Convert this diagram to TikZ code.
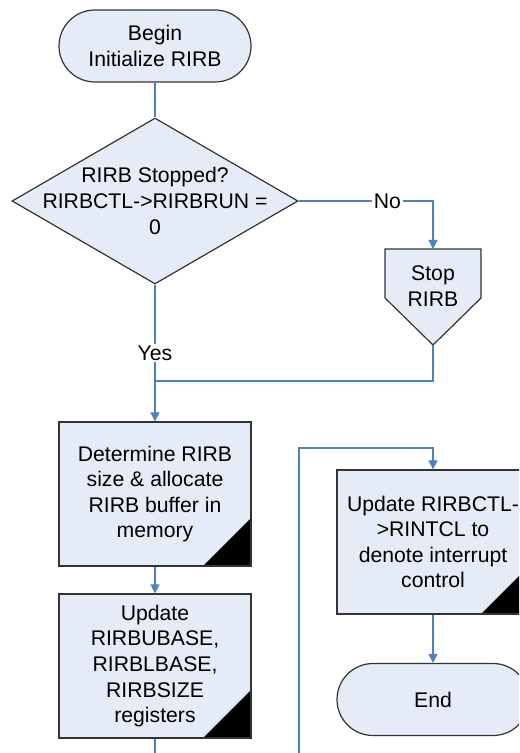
\documentclass[tikz,border=0pt]{standalone}
\usepackage{fontspec}
\setmainfont{Liberation Sans}
\usetikzlibrary{arrows.meta}
\usetikzlibrary{shapes.geometric}
\definecolor{boxfill}{RGB}{230,236,247}
\definecolor{linkblue}{RGB}{79,129,189}
\tikzset{
  term/.style={draw=black!80, fill=boxfill, rectangle, rounded corners=18pt, minimum width=96pt, minimum height=36pt, align=center, line width=0.6pt},
  proc/.style={draw=black!80, fill=boxfill, rectangle, minimum width=96pt, minimum height=72pt, inner sep=0pt, align=center, line width=0.6pt,
    path picture={\fill[black] (path picture bounding box.south east) -- ++(-24pt,0) -- ++(24pt,24pt) -- cycle;}},
  link/.style={draw=linkblue, line width=0.55pt},
  arr/.style={link, -{Triangle[length=4.5pt,width=4.5pt]}},
  lbl/.style={fill=white, inner sep=1pt}
}

\begin{document}
\begin{tikzpicture}[x=0.5pt, y=-0.5pt, font=\fontsize{10.6}{12.8}\selectfont]
\useasboundingbox (0,0) rectangle (519,753);
\clip (0,0) rectangle (519,753);
\node[term] (begin) at (155,46) {Begin\\Initialize RIRB};
\node[diamond, draw=black!80, fill=boxfill, line width=0.6pt, minimum width=143pt, minimum height=83pt, inner sep=0pt] (stopq) at (155,201) {};
\node[align=center] (stopqtext) at (stopq) {RIRB Stopped?\\RIRBCTL->RIRBRUN =\\0};
\coordinate (stoptop) at (433,249);
\coordinate (stopbot) at (433,345);
\draw[draw=black!80, fill=boxfill, line width=0.6pt] (385,249) -- (481,249) -- (481,298) -- (stopbot) -- (385,298) -- cycle;
\node[align=center] (stop) at (433,286) {Stop\\RIRB};
\coordinate (merge) at (155,381);
\node[proc] (det) at (155,494) {Determine RIRB\\size \& allocate\\RIRB buffer in\\memory};
\node[proc] (upd) at (155,666) {Update\\RIRBUBASE,\\RIRBLBASE,\\RIRBSIZE\\registers};
\node[proc] (ctl) at (433,542) {Update RIRBCTL-\\>RINTCL to\\denote interrupt\\control};
\node[term] (finish) at (433,699.5) {End};
\coordinate (updout) at (155,765);
\coordinate (loopin) at (299,765);
\coordinate (loopbend) at (299,448);
\draw[link] (begin) -- (stopq.north);
\draw[arr] (stopq.east) -| node[lbl, pos=0.33] {No} (stoptop);
\draw[arr] (stopq.south) -- node[lbl] {Yes} (det.north);
\draw[link] (stopbot) |- (merge);
\draw[arr] (det) -- (upd);
\draw[link] (upd) -- (updout);
\draw[arr] (loopin) -- (loopbend) -| (ctl.north);
\draw[arr] (ctl) -- (finish);
\end{tikzpicture}
\end{document}
